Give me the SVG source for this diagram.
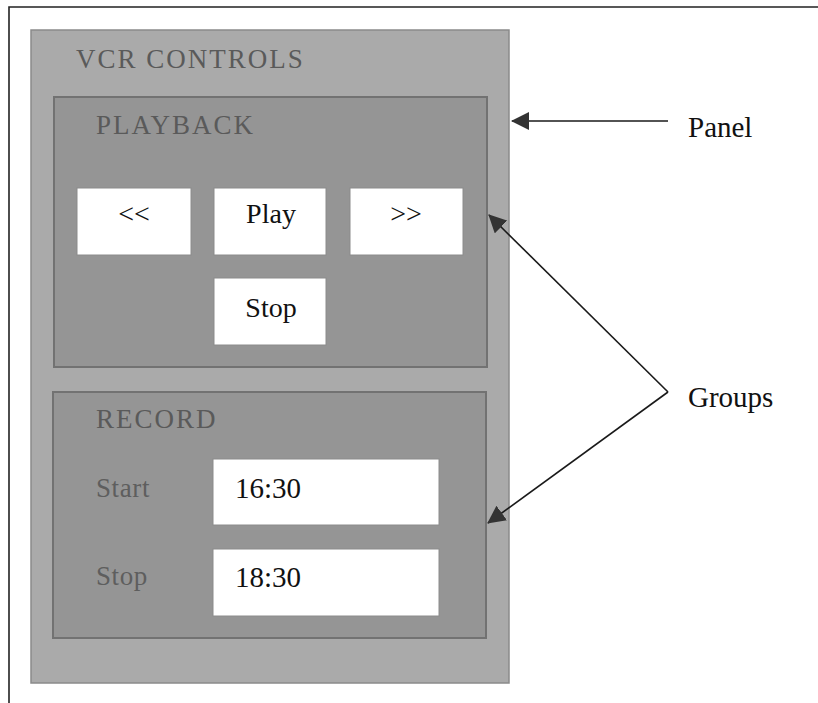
<svg xmlns="http://www.w3.org/2000/svg" width="818" height="703" viewBox="0 0 818 703">
  <style>
    .serif { font-family: "Liberation Serif", "DejaVu Serif", serif; }
    .panel { fill: #aaaaaa; stroke: #8a8a8a; stroke-width: 1.5; }
    .grp { fill: #959595; stroke: #727272; stroke-width: 2; }
    .btn { fill: #ffffff; stroke: #8c8c8c; stroke-width: 1; }
    .title { font-size: 27px; fill: #5a5a5a; letter-spacing: 2px; }
    .lbl { font-size: 27px; fill: #5e5e5e; letter-spacing: 0.6px; }
    .btxt { font-size: 28px; fill: #111111; text-anchor: middle; }
    .ftxt { font-size: 29px; fill: #111111; }
    .note { font-size: 29px; fill: #111111; }
    .conn { stroke: #1a1a1a; stroke-width: 1.6; fill: none; }
  </style>
  <defs>
    <marker id="arrow" viewBox="0 0 18 18" refX="17" refY="9" markerWidth="18" markerHeight="18" markerUnits="userSpaceOnUse" orient="auto">
      <path d="M0,0 L18,9 L0,18 Z" fill="#333333"/>
    </marker>
  </defs>

  <rect width="818" height="703" fill="#ffffff"/>

  <!-- outer frame (open to the right and bottom) -->
  <path d="M9,703 L9,7 L818,7" fill="none" stroke="#222222" stroke-width="1.6"/>

  <!-- the panel -->
  <g id="panel">
    <rect class="panel" x="31" y="30" width="478" height="653"/>
    <text class="serif title" x="76" y="68">VCR CONTROLS</text>
  </g>

  <!-- playback group -->
  <g id="playback">
    <rect class="grp" x="54" y="97" width="433" height="270"/>
    <text class="serif title" x="96" y="134">PLAYBACK</text>
  </g>

  <g id="btn-rewind">
    <rect class="btn" x="77" y="188" width="114" height="67"/>
    <text class="serif btxt" x="134" y="223">&lt;&lt;</text>
  </g>
  <g id="btn-play">
    <rect class="btn" x="214" y="188" width="112" height="67"/>
    <text class="serif btxt" x="271" y="223">Play</text>
  </g>
  <g id="btn-forward">
    <rect class="btn" x="350" y="188" width="113" height="67"/>
    <text class="serif btxt" x="406" y="223">&gt;&gt;</text>
  </g>
  <g id="btn-stop">
    <rect class="btn" x="214" y="278" width="112" height="67"/>
    <text class="serif btxt" x="271" y="317">Stop</text>
  </g>

  <!-- record group -->
  <g id="record">
    <rect class="grp" x="53" y="392" width="433" height="246"/>
    <text class="serif title" x="96" y="428">RECORD</text>
  </g>

  <g id="field-start">
    <text class="serif lbl" x="96" y="497">Start</text>
    <rect class="btn" x="213" y="459" width="226" height="66"/>
    <text class="serif ftxt" x="235" y="498">16:30</text>
  </g>
  <g id="field-stop">
    <text class="serif lbl" x="96" y="585">Stop</text>
    <rect class="btn" x="213" y="549" width="226" height="67"/>
    <text class="serif ftxt" x="235" y="587">18:30</text>
  </g>

  <!-- callout labels -->
  <g id="label-panel">
    <text class="serif note" x="688" y="137">Panel</text>
  </g>
  <g id="label-groups">
    <text class="serif note" x="688" y="407">Groups</text>
  </g>

  <!-- connectors -->
  <g id="connectors">
    <line class="conn" x1="668" y1="121" x2="512" y2="121" marker-end="url(#arrow)"/>
    <line class="conn" x1="668" y1="392" x2="489" y2="215" marker-end="url(#arrow)"/>
    <line class="conn" x1="668" y1="392" x2="488" y2="523" marker-end="url(#arrow)"/>
  </g>
</svg>
